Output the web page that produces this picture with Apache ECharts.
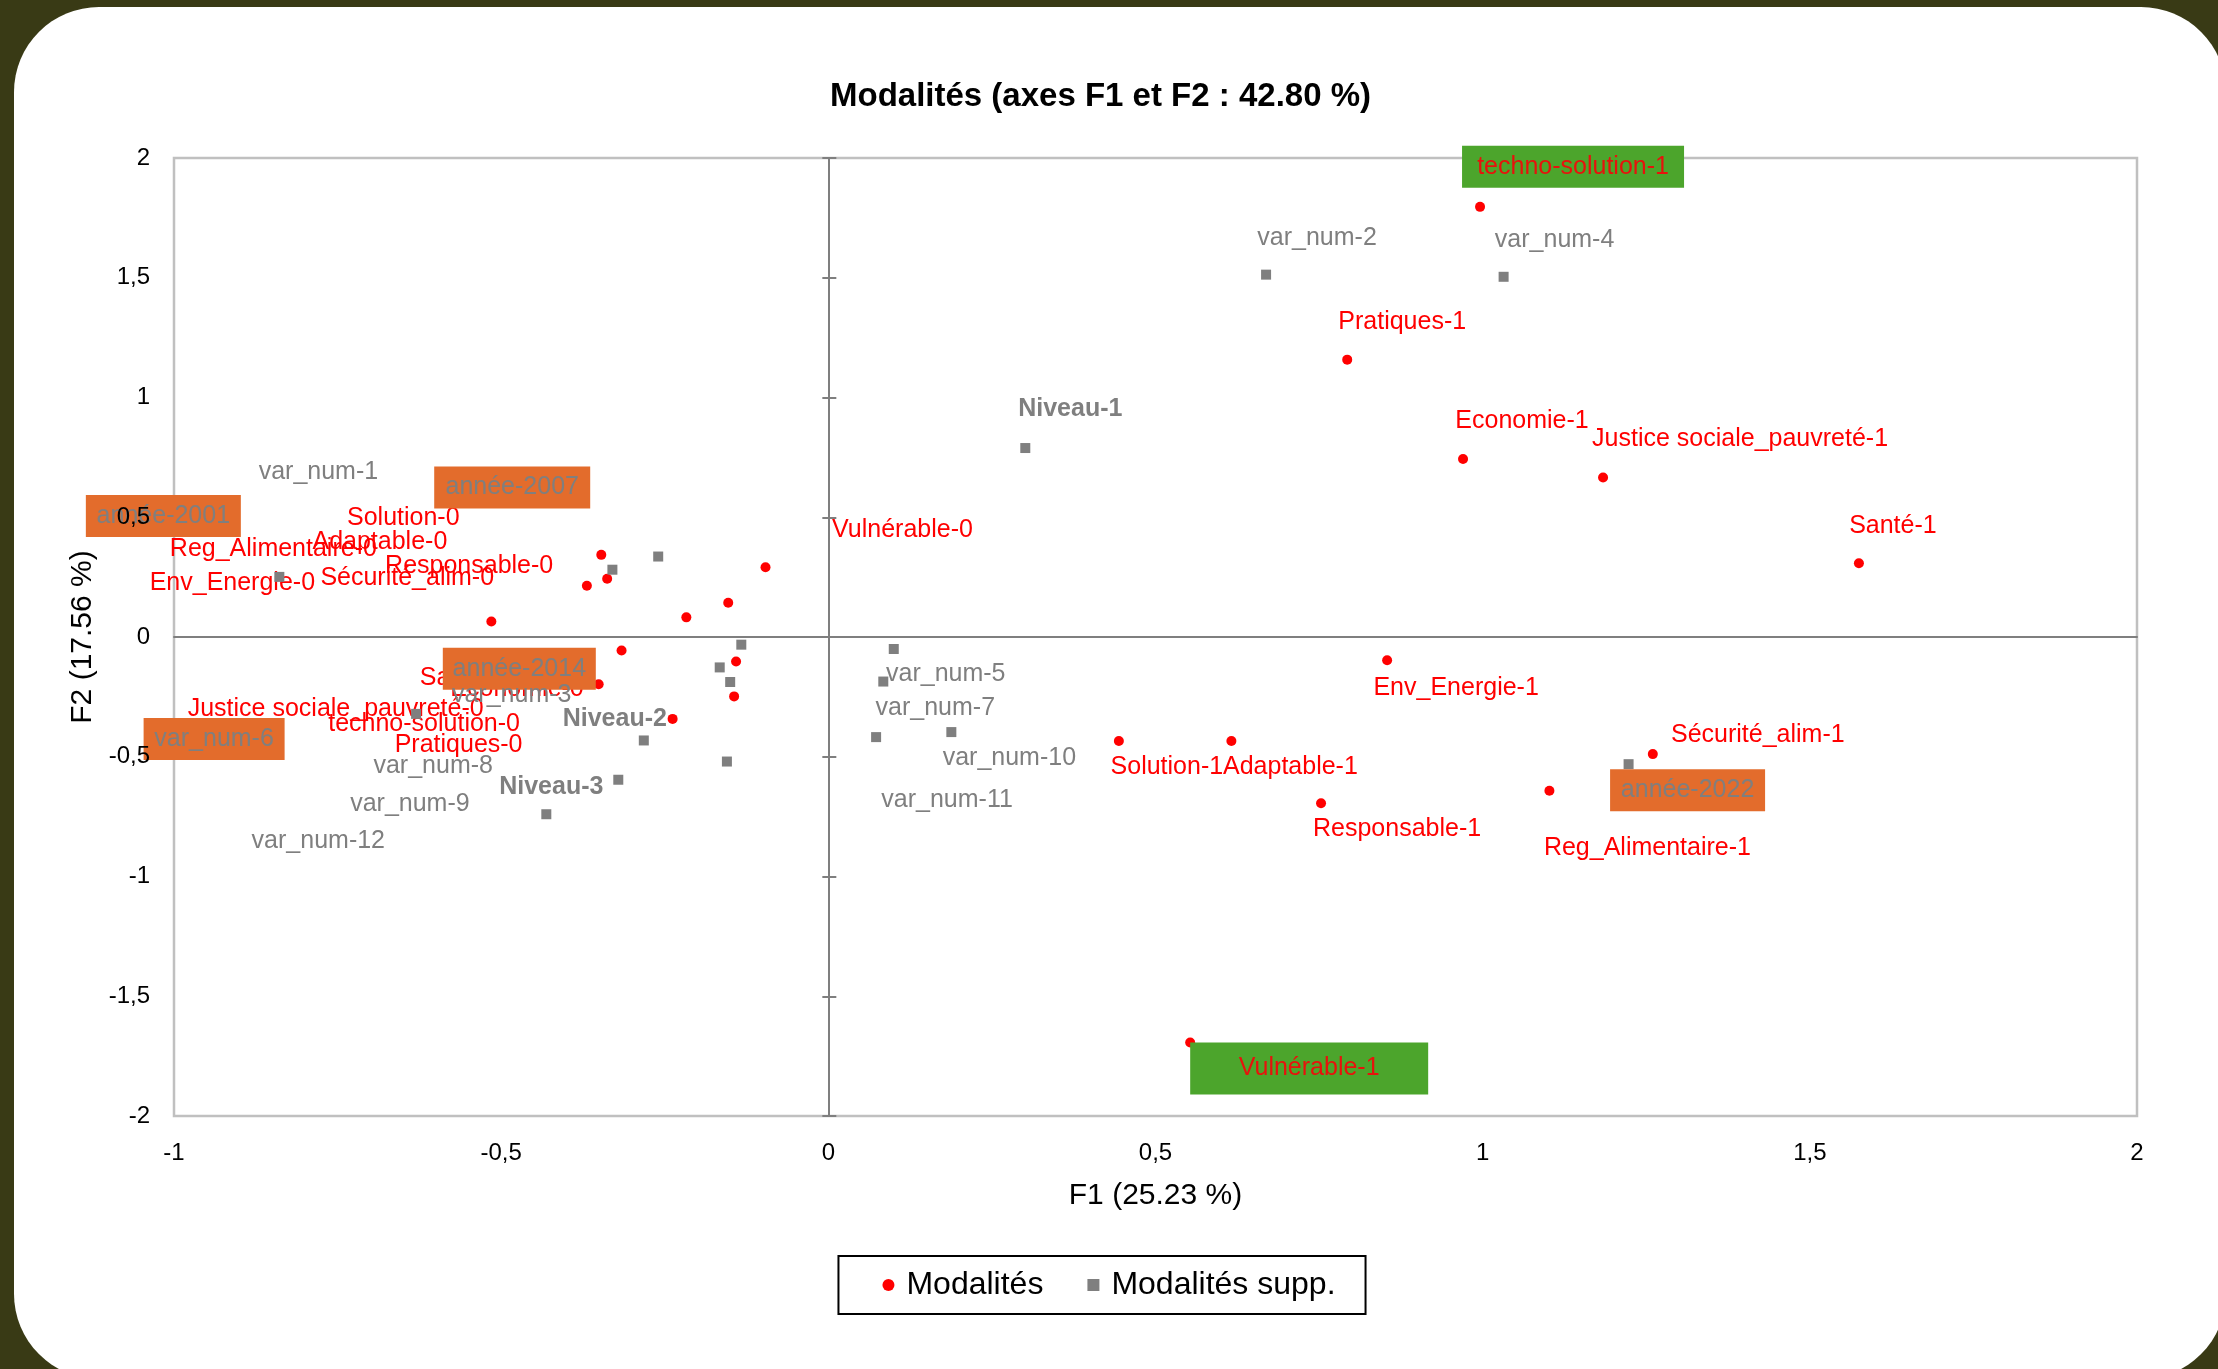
<!DOCTYPE html>
<html>
<head>
<meta charset="utf-8">
<script src="https://cdn.jsdelivr.net/npm/echarts@6/dist/echarts.min.js"></script>
<style>
  html, body { margin: 0; padding: 0; width: 2218px; height: 1369px; overflow: hidden; background: #393A15; }
  #card { position: absolute; left: 14px; top: 7px; width: 2212px; height: 1372px; background: #ffffff; border-radius: 85px; }
  #chart { position: absolute; left: 0; top: 0; width: 2218px; height: 1369px; }
</style>
</head>
<body>
<div id="card"></div>
<div id="chart"></div>
<script>
// ---------- DATA ----------
const titleText = 'Modalités (axes F1 et F2 : 42.80 %)';
const xName = 'F1 (25.23 %)';
const yName = 'F2 (17.56 %)';
const xTicks = [-1, -0.5, 0, 0.5, 1, 1.5, 2];
const yTicks = [-2, -1.5, -1, -0.5, 0, 0.5, 1, 1.5, 2];

// Modalités (active categories)
const modNames = [
  'techno-solution-1', 'Pratiques-1', 'Economie-1', 'Justice sociale_pauvreté-1', 'Santé-1',
  'Env_Energie-1', 'Sécurité_alim-1', 'Reg_Alimentaire-1', 'Solution-1', 'Adaptable-1',
  'Responsable-1', 'Vulnérable-1',
  'Solution-0', 'Responsable-0', 'Adaptable-0', 'Reg_Alimentaire-0', 'Vulnérable-0',
  'Sécurité_alim-0', 'Env_Energie-0', 'Santé-0', 'Economie-0', 'Justice sociale_pauvreté-0',
  'techno-solution-0', 'Pratiques-0'
];
const modF1 = [
  0.996, 0.793, 0.970, 1.184, 1.575,
  0.854, 1.260, 1.102, 0.444, 0.616,
  0.753, 0.553,
  -0.347, -0.338, -0.369, -0.515, -0.096,
  -0.153, -0.217, -0.316, -0.141, -0.351,
  -0.144, -0.238
];
const modF2 = [
  1.796, 1.158, 0.743, 0.666, 0.308,
  -0.097, -0.489, -0.642, -0.434, -0.434,
  -0.694, -1.693,
  0.343, 0.243, 0.214, 0.065, 0.291,
  0.143, 0.082, -0.056, -0.102, -0.197,
  -0.248, -0.342
];

// Modalités supp. (supplementary categories)
const supNames = [
  'var_num-2', 'var_num-4', 'Niveau-1', 'année-2022', 'var_num-5', 'var_num-7', 'var_num-10', 'var_num-11',
  'année-2001', 'var_num-1', 'année-2007', 'année-2014', 'var_num-3', 'var_num-8', 'Niveau-2',
  'var_num-9', 'Niveau-3', 'var_num-12', 'var_num-6'
];
const supF1 = [
  0.669, 1.032, 0.301, 1.223, 0.100, 0.084, 0.188, 0.073,
  -0.839, -0.330, -0.260, -0.133, -0.166, -0.150, -0.282,
  -0.155, -0.321, -0.431, -0.630
];
const supF2 = [
  1.513, 1.504, 0.789, -0.531, -0.050, -0.186, -0.397, -0.418,
  0.251, 0.281, 0.336, -0.032, -0.127, -0.188, -0.432,
  -0.520, -0.596, -0.740, -0.321
];

// ---------- LAYOUT / STYLE (label placement, px offsets from the mark) ----------
const labelOffset = {
  'techno-solution-1': [93, -40], 'Pratiques-1': [55, -38], 'Economie-1': [59, -38],
  'Justice sociale_pauvreté-1': [137, -38], 'Santé-1': [34, -37], 'Env_Energie-1': [69, 28],
  'Sécurité_alim-1': [105, -19], 'Reg_Alimentaire-1': [98, 57], 'Solution-1': [48, 26],
  'Adaptable-1': [59, 26], 'Responsable-1': [76, 26], 'Vulnérable-1': [119, 26],
  'Solution-0': [-198, -37], 'Responsable-0': [-138, -13], 'Adaptable-0': [-207, -44],
  'Reg_Alimentaire-0': [-218, -72], 'Vulnérable-0': [137, -37], 'Sécurité_alim-0': [-321, -25],
  'Env_Energie-0': [-454, -34], 'Santé-0': [-158, 28], 'Economie-0': [-219, 28],
  'Justice sociale_pauvreté-0': [-263, 25], 'techno-solution-0': [-310, 28], 'Pratiques-0': [-214, 26],
  'var_num-2': [51, -37], 'var_num-4': [51, -37], 'Niveau-1': [45, -39], 'année-2022': [59, 26],
  'var_num-5': [52, 25], 'var_num-7': [52, 27], 'var_num-10': [58, 26], 'var_num-11': [71, 63],
  'année-2001': [-116, -61], 'var_num-1': [-294, -98], 'année-2007': [-146, -69],
  'année-2014': [-222, 24], 'var_num-3': [-208, 28], 'var_num-8': [-297, 84], 'Niveau-2': [-29, -21],
  'var_num-9': [-317, 43], 'Niveau-3': [-67, 7], 'var_num-12': [-228, 27], 'var_num-6': [-202, 25]
};
const ORANGE = '#E36C2C', GREEN = '#4CA52C', RED = '#FF0000', GREY = '#7F7F7F';
const boxStyle = {
  'techno-solution-1': { backgroundColor: GREEN, color: '#E8120C', width: 222, height: 42 },
  'Vulnérable-1': { backgroundColor: GREEN, color: '#E8120C', width: 238, height: 52 },
  'année-2001': { backgroundColor: ORANGE, color: GREY, width: 155, height: 42 },
  'année-2007': { backgroundColor: ORANGE, color: GREY, width: 156, height: 42 },
  'année-2014': { backgroundColor: ORANGE, color: GREY, width: 153, height: 42 },
  'année-2022': { backgroundColor: ORANGE, color: GREY, width: 155, height: 42 },
  'var_num-6': { backgroundColor: ORANGE, color: GREY, width: 141, height: 42 }
};
const FONT = 'Liberation Sans, Arial, sans-serif';

function makeLabel(name, color) {
  const l = {
    show: true, position: 'inside', formatter: '{b}',
    offset: labelOffset[name] || [0, -30],
    color: color, fontSize: 25, fontFamily: FONT, opacity: 1,
    align: 'center', verticalAlign: 'middle'
  };
  if (name.indexOf('Niveau') === 0) { l.fontWeight = 'bold'; }
  const b = boxStyle[name];
  if (b) {
    Object.assign(l, b);
    l.lineHeight = b.height;
    l.padding = 0;
  }
  return l;
}

const modData = modNames.map((n, i) => ({ name: n, value: [modF1[i], modF2[i]], label: makeLabel(n, RED) }));
const supData = supNames.map((n, i) => ({ name: n, value: [supF1[i], supF2[i]], label: makeLabel(n, GREY) }));

const fmt = v => String(v).replace('.', ',');

const chart = echarts.init(document.getElementById('chart'), null, { renderer: 'canvas' });
chart.setOption({
  backgroundColor: 'transparent',
  animation: false,
  graphic: [{
    type: 'text', left: 830, top: 80, z: 20,
    style: {
      text: titleText, x: 0, y: 0,
      fontSize: 33, fontWeight: 'bold', fill: '#000', fontFamily: FONT
    }
  }],
  legend: {
    left: 'center', top: 1256,
    data: [{ name: 'Modalités', icon: 'circle' }, { name: 'Modalités supp.', icon: 'rect' }],
    itemWidth: 12, itemHeight: 12, itemGap: 44,
    padding: [13, 30, 13, 44],
    borderColor: '#000', borderWidth: 2,
    textStyle: { fontSize: 32, color: '#000', fontFamily: FONT, padding: [0, 0, 0, 7] }
  },
  grid: {
    left: 174, right: 81, top: 158, bottom: 253,
    show: true, borderColor: '#C0C0C0', borderWidth: 2.5, backgroundColor: '#fff'
  },
  xAxis: [
    {
      type: 'value', min: -1, max: 2, interval: 0.5, position: 'bottom',
      name: xName, nameLocation: 'middle', nameGap: 65,
      nameTextStyle: { fontSize: 30, color: '#000', fontFamily: FONT },
      axisLine: { show: false, onZero: false }, axisTick: { show: false }, splitLine: { show: false },
      axisLabel: { fontSize: 24, color: '#000', fontFamily: FONT, margin: 25, formatter: fmt }
    },
    {
      type: 'value', min: -1, max: 2, interval: 0.5, position: 'bottom',
      axisLine: { show: true, onZero: true, lineStyle: { color: '#7F7F7F', width: 2 } },
      axisTick: { show: false }, splitLine: { show: false }, axisLabel: { show: false }
    }
  ],
  yAxis: [
    {
      type: 'value', min: -2, max: 2, interval: 0.5, position: 'left', z: 10,
      name: yName, nameLocation: 'middle', nameGap: 74,
      nameTextStyle: { fontSize: 30, color: '#000', fontFamily: FONT },
      axisLine: { show: false, onZero: false }, axisTick: { show: false }, splitLine: { show: false },
      axisLabel: { fontSize: 24, color: '#000', fontFamily: FONT, margin: 24, formatter: fmt }
    },
    {
      type: 'value', min: -2, max: 2, interval: 0.5, position: 'left',
      axisLine: { show: true, onZero: true, lineStyle: { color: '#7F7F7F', width: 2 } },
      axisTick: { show: true, inside: false, length: 6, lineStyle: { color: '#7F7F7F', width: 2 } },
      splitLine: { show: false }, axisLabel: { show: false }
    },
    {
      type: 'value', min: -2, max: 2, interval: 0.5, position: 'left',
      axisLine: { show: false, onZero: true },
      axisTick: { show: true, inside: true, length: 8, lineStyle: { color: '#7F7F7F', width: 2 } },
      splitLine: { show: false }, axisLabel: { show: false }
    }
  ],
  series: [
    {
      name: 'Modalités', type: 'scatter', xAxisIndex: 0, yAxisIndex: 0,
      symbol: 'circle', symbolSize: 10, itemStyle: { color: RED, opacity: 1 },
      data: modData, z: 3
    },
    {
      name: 'Modalités supp.', type: 'scatter', xAxisIndex: 0, yAxisIndex: 0,
      symbol: 'rect', symbolSize: 10, itemStyle: { color: GREY, opacity: 1 },
      data: supData, z: 4
    }
  ]
});
</script>
</body>
</html>
